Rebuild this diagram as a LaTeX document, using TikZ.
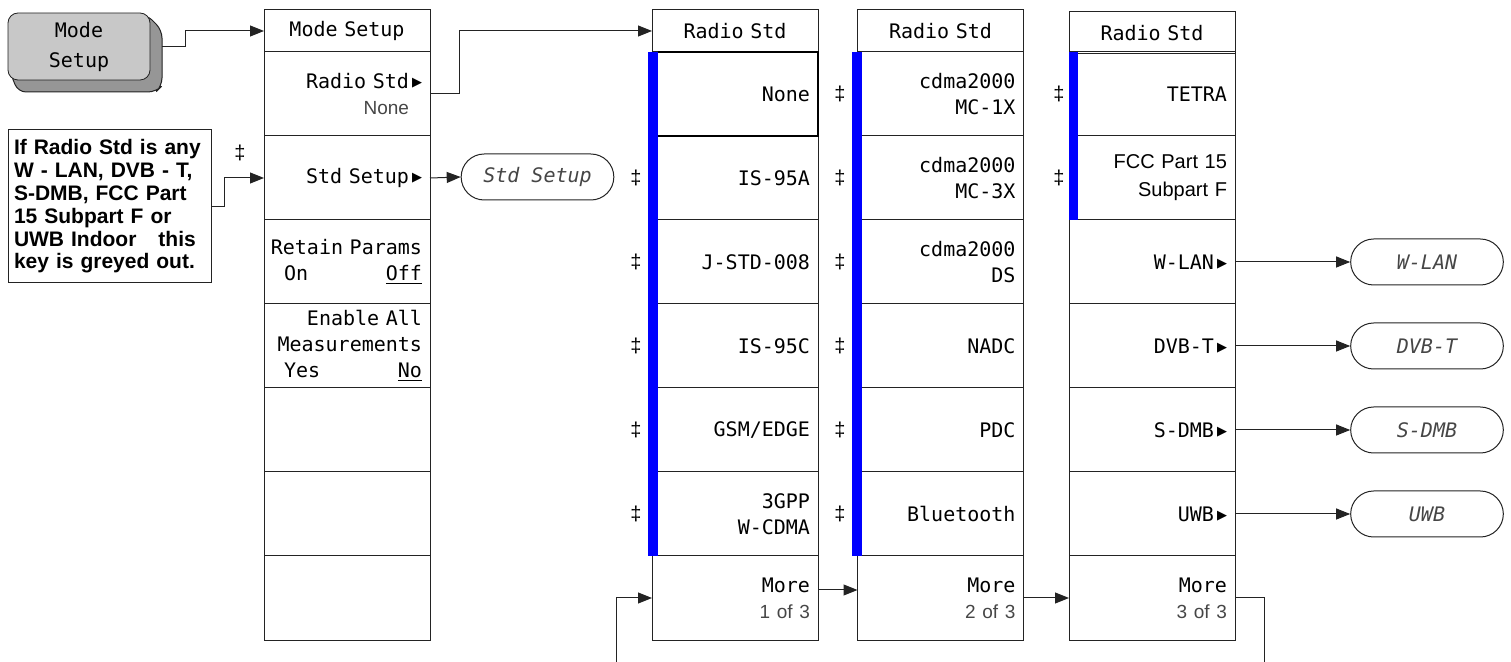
\documentclass[tikz,border=0pt]{standalone}
\usepackage{fontspec}
\usepackage{tikz}
\usepackage{xcolor}
\usetikzlibrary{positioning, calc, arrows.meta, shapes.misc}
\setmainfont{Liberation Sans}
\newfontfamily\keyfam{DejaVu Sans Mono}
\newfontfamily\symfam{DejaVu Sans}
\definecolor{keyblue}{RGB}{0, 0, 255}
\definecolor{keygray}{RGB}{200, 200, 200}
\definecolor{shadegray}{RGB}{150, 150, 150}
\definecolor{linegray}{RGB}{35, 35, 35}
\definecolor{softtext}{RGB}{70, 70, 70}

\newcommand{\keyfont}{\keyfam\fontsize{10}{13}\selectfont}
\newcommand{\subtext}[1]{{\rmfamily\fontsize{9.5}{12}\selectfont\color{softtext}#1}}
\newcommand{\submenu}{\kern1.5pt\raisebox{0.8pt}{\symfam\fontsize{6.5}{6.5}\selectfont ▶}}

\begin{document}
\begin{tikzpicture}[x=0.5pt, y=-0.5pt, >={Triangle[length=7pt, width=5.5pt]},
    softkey/.style={rectangle, draw=linegray, line width=0.5pt,
        minimum width=83pt, minimum height=42pt, text width=75pt,
        inner xsep=4pt, inner ysep=1pt, outer sep=0pt, align=right,
        font=\keyfont, anchor=north},
    keytitle/.style={softkey, minimum height=21pt, align=center},
    result/.style={rounded rectangle, draw=linegray, line width=0.5pt,
        minimum width=83pt, minimum height=23pt, font=\keyfont\itshape, text=softtext},
    dagger/.style={inner sep=0pt, font=\fontsize{10}{10}\selectfont},
    link/.style={->, line width=0.5pt, draw=linegray}]

\useasboundingbox (0,0) rectangle (1511,662);

% Front panel hard key
\draw[fill=shadegray, draw=linegray, line width=0.5pt, rounded corners=4pt]
    (10,72) -- (18,92) -- (156,92) -- (162,86) -- (162,30) -- (146,14) -- cycle;
\node[rectangle, rounded corners=5pt, draw=linegray, fill=keygray,
      minimum width=71pt, minimum height=33.5pt, align=center,
      font=\keyfam\fontsize{10}{15}\selectfont] (modekey) at (79,46.5) {Mode\\Setup};
\coordinate (modekeyout) at (162,47);

% Note on the greyed out key
\node[rectangle, draw=linegray, line width=0.5pt,
      minimum width=101.5pt, minimum height=76.5pt, text width=95.5pt,
      inner sep=3pt, align=left,
      font=\bfseries\fontsize{10.5}{11.4}\selectfont] (note) at (109.5,206.5)
    {If Radio Std is any\\W - LAN, DVB - T,\\S-DMB, FCC Part\\15 Subpart F or\\UWB Indoor\hspace{11pt}this\\key is greyed out.};

% Mode Setup menu
\node[keytitle] (atitle) at (347,10) {Mode Setup};
\node[softkey] (a1) at (347,52) {Radio Std\submenu\\\subtext{None}\kern6.5pt};
\node[softkey] (a2) at (347,136) {Std Setup\submenu};
\node[softkey] (a3) at (347,220) {\makebox[75pt][r]{Retain Params}\\\hspace*{6pt}On\hfill\underline{Off}};
\node[softkey] (a4) at (347,304) {Enable All\\Measurements\\\hspace*{6pt}Yes\hfill\underline{No}};
\foreach \k in {5,6,7} {
    \node[softkey] (a\k) at (347,{52+84*(\k-1)}) {};
}
\node[dagger] (adag) at (240,153) {\ddag};

% Std Setup form
\node[result] (stdoval) at (537.5,177) {Std Setup};

% Radio Std, page 1 of 3
\node[keytitle] (btitle) at (735,10) {Radio Std};
\foreach \k/\lbl in {1/None, 2/IS-95A, 3/J-STD-008, 4/IS-95C, 5/{GSM/EDGE}, 6/{3GPP\\W-CDMA}} {
    \node[softkey] (b\k) at (735,{52+84*(\k-1)}) {\lbl};
}
\node[softkey] (bmore) at (735,556) {More\\\subtext{1 of 3}};
\fill[keyblue] (648,52) rectangle (658,556);
\draw[line width=1.2pt, draw=black] (658,52) -| (b1.south east) -- (658,136);
\foreach \k in {2,...,6} {
    \node[dagger] (bdag\k) at (636,{94+84*(\k-1)}) {\ddag};
}

% Radio Std, page 2 of 3
\node[keytitle] (ctitle) at (940.5,10) {Radio Std};
\foreach \k/\lbl in {1/{cdma2000\\MC-1X}, 2/{cdma2000\\MC-3X}, 3/{cdma2000\\DS}, 4/NADC, 5/PDC, 6/Bluetooth} {
    \node[softkey] (c\k) at (940.5,{52+84*(\k-1)}) {\lbl};
}
\node[softkey] (cmore) at (940.5,556) {More\\\subtext{2 of 3}};
\fill[keyblue] (852,52) rectangle (862,556);
\foreach \k in {1,...,6} {
    \node[dagger] (cdag\k) at (840,{94+84*(\k-1)}) {\ddag};
}

% Radio Std, page 3 of 3
\node[keytitle] (dtitle) at (1152,12) {Radio Std};
\node[softkey] (d1) at (1152,52) {TETRA};
\node[softkey, font=\fontsize{10}{14}\selectfont] (d2) at (1152,136) {FCC Part 15\\Subpart F};
\foreach \k/\lbl in {3/W-LAN, 4/DVB-T, 5/S-DMB, 6/UWB} {
    \node[softkey] (d\k) at (1152,{52+84*(\k-1)}) {\lbl\submenu};
}
\node[softkey] (dmore) at (1152,556) {More\\\subtext{3 of 3}};
\fill[keyblue] (1069,52) rectangle (1078,220);
\foreach \k in {1,2} {
    \node[dagger] (ddag\k) at (1059,{94+84*(\k-1)}) {\ddag};
}

% Standard setup forms
\node[result] (wlan) at (1427,262) {W-LAN};
\node[result] (dvbt) at (1427,346) {DVB-T};
\node[result] (sdmb) at (1427,430) {S-DMB};
\node[result] (uwb) at (1427,514) {UWB};

% Arrows
\coordinate (loopout) at (1264,662);
\coordinate (loopin) at (616,662);
\draw[link] (modekeyout) -- ++(23,0) |- (atitle.west);
\draw[link] (a1.east) -- ++(29,0) |- (btitle.west);
\draw[link] (note.east) -- ++(13,0) |- (a2.west);
\draw[link] (a2.east) -- (stdoval.west);
\draw[link] ([yshift=4pt]bmore.east) -- ([yshift=4pt]cmore.west);
\draw[link] (cmore.east) -- (dmore.west);
\draw[line width=0.5pt, draw=linegray] (dmore.east) -| (loopout);
\draw[link] (loopin) |- (bmore.west);
\foreach \k/\r in {3/wlan, 4/dvbt, 5/sdmb, 6/uwb} {
    \draw[link] (d\k.east) -- (\r.west);
}

\end{tikzpicture}
\end{document}
